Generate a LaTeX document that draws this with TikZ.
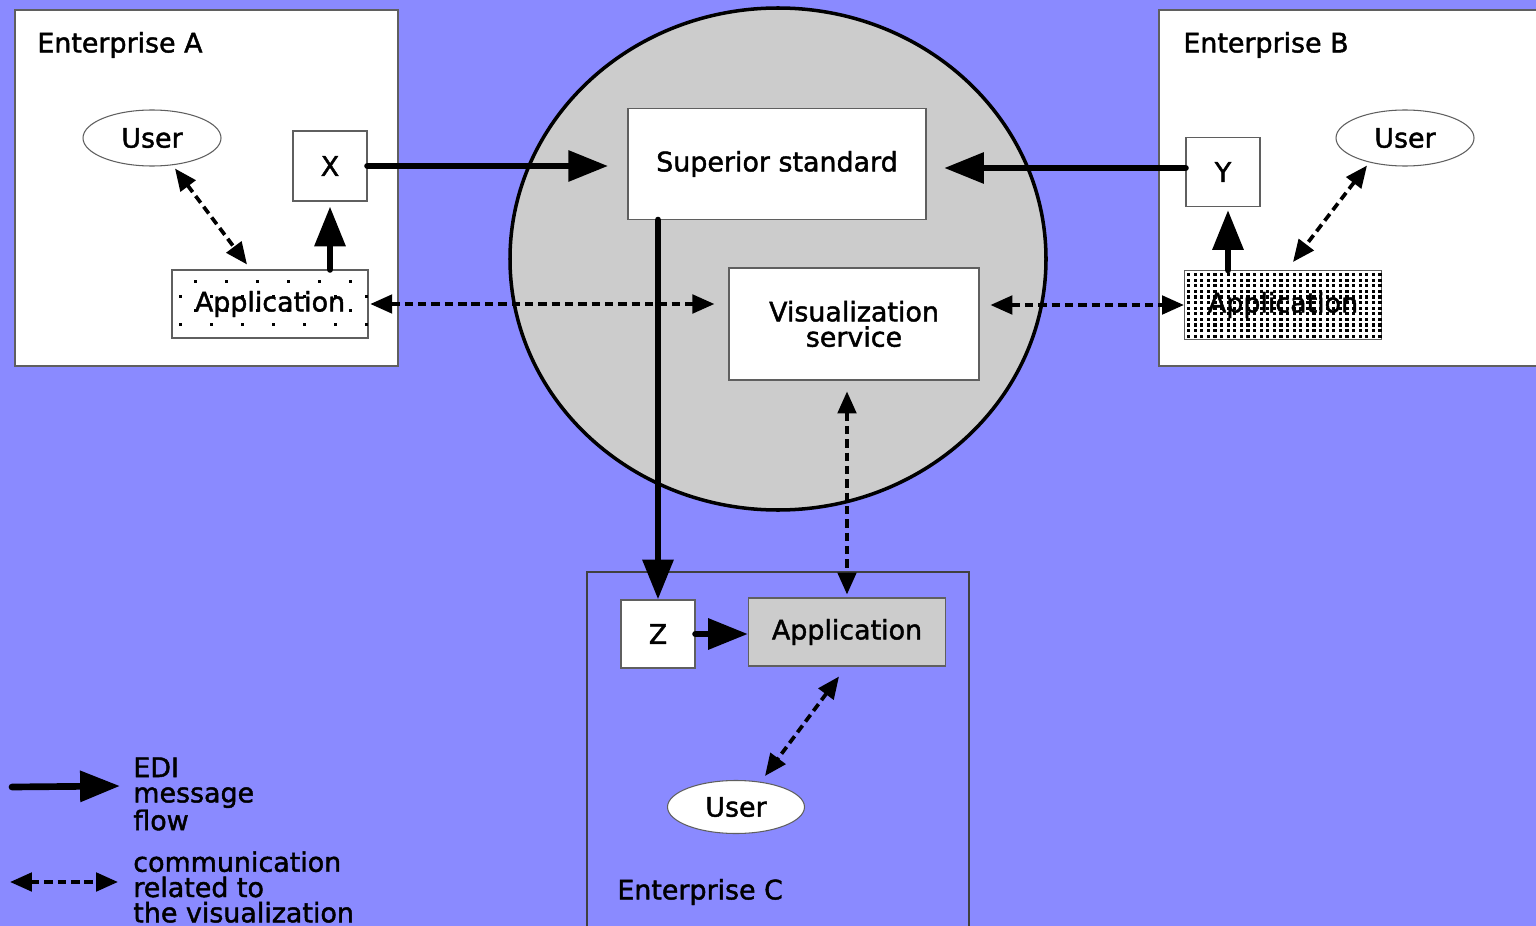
\documentclass[tikz,border=0pt]{standalone}
\usepackage{fontspec}
\setmainfont{DejaVu Sans}[RawFeature={embolden=1.6}]
\usetikzlibrary{arrows.meta,shapes.geometric,calc}
\definecolor{bgblue}{RGB}{138,138,255}
\definecolor{hubgray}{RGB}{204,204,204}
\definecolor{rimgray}{RGB}{95,95,95}
\def\px{0.02cm}
\tikzstyle{diagram}=[%
	x = \px, y = -\px,
	every node/.style = {
		font = \fontsize{15.3}{14.4}\selectfont,
		inner sep = 0pt
	},
	enterprise/.style = {draw=rimgray, line width=0.6pt},
	box/.style = {draw=rimgray, line width=0.6pt, fill=white, align=center},
	user/.style = {ellipse, draw=rimgray, line width=0.6pt, fill=white,
		minimum width=138*\px, minimum height=56*\px},
	dot/.style = {fill=black},
	edi/.style = {line width=3.8pt, line cap=round,
		-{Triangle[length=22.7pt,width=17pt]}},
	vis/.style = {line width=2.1pt, dash pattern=on 4.8pt off 2.8pt,
		{Triangle[length=12.5pt,width=10.5pt]}-{Triangle[length=12.5pt,width=10.5pt]}}
]

\begin{document}
\begin{tikzpicture}[diagram]
	% Background, frame
	\useasboundingbox (0,0) rectangle (1536,926);
	\clip (0,0) rectangle (1536,926);
	\fill[bgblue] (0,0) rectangle (1536,926);

	% Enterprises
	\draw[enterprise, fill=white] (15,10) rectangle (398,366);
	\draw[enterprise, fill=white] (1159,10) rectangle (1545,366);
	\draw[enterprise, draw=black!75] (587,572) rectangle (969,940);
	\node[anchor=west] (entA) at (37,45) {Enterprise A};
	\node[anchor=west] (entB) at (1183,45) {Enterprise B};
	\node[anchor=west] (entC) at (617,892) {Enterprise C};

	% Hub
	\node[ellipse, draw=black, line width=2pt, fill=hubgray,
		minimum width=536*\px, minimum height=502*\px] (hub) at (778,259) {};
	\node[box, minimum width=298*\px, minimum height=111*\px] (sup) at (777,164) {Superior standard};
	\node[box, minimum width=250*\px, minimum height=112*\px] (visu) at (854,324) {Visualization\\service};

	% Enterprise A
	\node[user] (userA) at (152,138) {User};
	\node[box, minimum width=74*\px, minimum height=70*\px] (X) at (330,166) {X};
	\node[box, minimum width=196*\px, minimum height=68*\px] (appA) at (270,304) {Application};
	\begin{scope}
		\clip (appA.north west) rectangle (appA.south east);
		\foreach \y in {11,39.6} \foreach \x in {23,54,...,200}
			\fill[dot] ($(appA.north west)+(\x,\y)$) rectangle ++(2.8,2.8);
		\foreach \y in {25.3,54} \foreach \x in {8,39,...,200}
			\fill[dot] ($(appA.north west)+(\x,\y)$) rectangle ++(2.8,2.8);
	\end{scope}

	% Enterprise B
	\node[user] (userB) at (1405,138) {User};
	\node[box, minimum width=74*\px, minimum height=69*\px] (Y) at (1223,172) {Y};
	\node[box, minimum width=197*\px, minimum height=69*\px] (appB) at (1283,305) {Application};
	\begin{scope}
		\clip (appB.north west) rectangle (appB.south east);
		\foreach \y in {3,8.6,...,68} \foreach \x in {3,9.6,...,196}
			\fill[dot] ($(appB.north west)+(\x,\y)$) rectangle ++(3.2,3.2);
	\end{scope}

	% Enterprise C
	\node[box, minimum width=74*\px, minimum height=68*\px] (Z) at (658,634) {Z};
	\node[box, fill=hubgray, minimum width=197*\px, minimum height=68*\px] (appC) at (847,632) {Application};
	\node[user, minimum width=137*\px, minimum height=53*\px] (userC) at (736,807) {User};

	% EDI message flow
	\draw[edi, shorten >=11pt] (X.east) -- (X.east -| sup.west);
	\draw[edi, shorten >=10pt] ($(Y.west)+(0,-4)$) -- ($(Y.west -| sup.east)+(0,-4)$);
	\draw[edi] (sup.south -| Z) -- (Z.north);
	\draw[edi] (Z.east) -- (appC.west |- Z.east);
	\draw[edi, shorten >=2.8pt] (appA.north -| X) -- (X.south);
	\draw[edi, shorten >=1.7pt] ($(appB.north -| Y)+(5,0)$) -- ($(Y.south)+(5,0)$);

	% Communication related to the visualization
	\draw[vis] ($(userA.south)+(23,2)$) -- ($(appA.north)+(-23,-5)$);
	\draw[vis, shorten <=1pt, shorten >=8pt] (appA.east) -- (appA.east -| visu.west);
	\draw[vis, shorten <=6.2pt] (visu.east |- appB.west) -- (appB.west);
	\draw[vis] ($(userB.south)+(-38,-1)$) -- ($(appB.north)+(10,-8)$);
	\draw[vis, shorten <=6.2pt, shorten >=1.7pt] (visu.south -| appC) -- (appC.north);
	\draw[vis] ($(appC.south)+(-8,10)$) -- ($(userC.north)+(29,-4)$);

	% Legend
	\coordinate (ediA) at (12,787);
	\coordinate (ediB) at (120,786);
	\draw[edi] (ediA) -- (ediB);
	\node[anchor=west, align=left] (ediL) at (133,794) {EDI\\message\\flow};
	\coordinate (visA) at (10,882);
	\coordinate (visB) at (118,882);
	\draw[vis] (visA) -- (visB);
	\node[anchor=west, align=left] (visL) at (133,887) {communication\\related to\\the visualization};

\end{tikzpicture}
\end{document}
